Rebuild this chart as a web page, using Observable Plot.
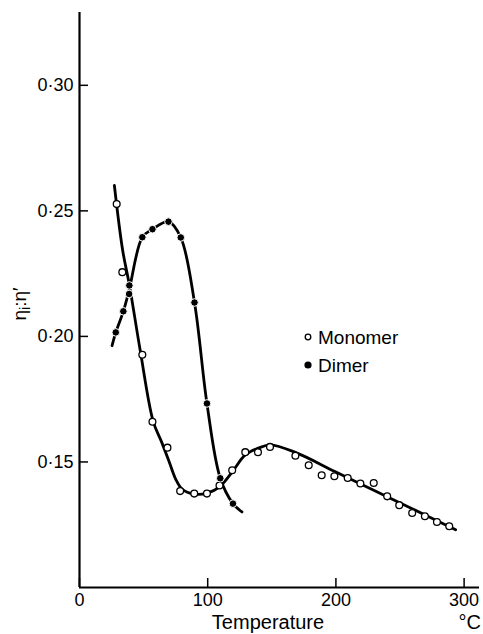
<!DOCTYPE html>
<html>
<head>
<meta charset="utf-8">
<script src="https://cdn.jsdelivr.net/npm/d3@7"></script>
<script src="https://cdn.jsdelivr.net/npm/@observablehq/plot@0.6"></script>
<style>
  html, body { margin: 0; padding: 0; background: white; }
  #chart { width: 483px; height: 634px; overflow: hidden; }
</style>
</head>
<body>
<div id="chart"></div>
<script>
// Tick values
const temperatureTicks = [0, 100, 200, 300];
const ratioTicks = [0.15, 0.20, 0.25, 0.30];
const seriesNames = ["Monomer", "Dimer"];

// Monomer measured points (temperature °C, ratio)
const monomerT = [29, 33.4, 49, 56.9, 68.6, 78.5, 89.5, 99.4, 109.2, 119.1, 129.3, 139.2, 148.6, 168.4, 178.8, 188.9, 198.8, 209.2, 219.1, 229.5, 240, 249.4, 259.5, 269.4, 278.8, 288.4];
const monomerV = [0.2527, 0.2256, 0.1927, 0.1660, 0.1557, 0.1384, 0.1374, 0.1374, 0.1406, 0.1467, 0.1539, 0.1539, 0.1560, 0.1525, 0.1487, 0.1447, 0.1443, 0.1436, 0.1414, 0.1416, 0.1363, 0.1328, 0.1297, 0.1284, 0.1261, 0.1244];

// Monomer fitted curve
const monomerCurveT = [27.2, 33.6, 38.9, 47.3, 57.4, 64, 70, 75, 80, 89.5, 99.6, 109, 119.1, 129.3, 139.5, 149, 168.4, 198.8, 229.5, 259.5, 293.4];
const monomerCurveV = [0.2601, 0.2345, 0.2205, 0.1946, 0.1663, 0.1580, 0.1500, 0.1432, 0.1392, 0.1372, 0.1376, 0.1400, 0.1460, 0.1528, 0.1555, 0.1568, 0.1538, 0.1463, 0.1387, 0.1314, 0.1230];

// Dimer measured points
const dimerT = [28.3, 34.2, 38.7, 38.9, 49, 56.9, 69.4, 79, 89.7, 99.4, 109.8, 119.7];
const dimerV = [0.2016, 0.2100, 0.2169, 0.2203, 0.2395, 0.2427, 0.2457, 0.2394, 0.2135, 0.1733, 0.1435, 0.1334];

// Dimer fitted curve
const dimerCurveT = [25.4, 28.3, 34.2, 38.8, 49, 56.9, 69.4, 79, 89.7, 99.4, 109.8, 119.7, 126.7];
const dimerCurveV = [0.1963, 0.2016, 0.2100, 0.2186, 0.2395, 0.2427, 0.2457, 0.2394, 0.2135, 0.1733, 0.1435, 0.1334, 0.1301];

const fmt = d => d.toFixed(2).replace(".", "\u00B7");
const FONT = "'Liberation Sans', Arial, sans-serif";

const plot = Plot.plot({
  width: 483,
  height: 634,
  marginLeft: 79,
  marginTop: 12,
  marginBottom: 47,
  marginRight: 4,
  style: { fontFamily: FONT, fontSize: "18px", color: "black", background: "white" },
  x: { domain: [0, 312], label: null },
  y: { domain: [0.10, 0.329], label: null },
  marks: [
    Plot.axisX(temperatureTicks, { tickSize: 0, tickPadding: 6, fontSize: 18, label: null }),
    Plot.axisX(temperatureTicks, { fill: "none", tickSize: 9, dy: -9, strokeWidth: 1.5, label: null }),
    Plot.axisY(ratioTicks, { tickSize: 0, tickPadding: 6, tickFormat: fmt, fontSize: 18, label: null }),
    Plot.axisY(ratioTicks, { fill: "none", tickSize: 9, dx: 9, strokeWidth: 1.5, label: null }),
    Plot.ruleX([0], { strokeWidth: 2.2 }),
    Plot.ruleY([0.10], { strokeWidth: 2.2 }),
    Plot.line(monomerCurveT, { x: monomerCurveT, y: monomerCurveV, curve: "catmull-rom", strokeWidth: 2.8 }),
    Plot.line(dimerCurveT, { x: dimerCurveT, y: dimerCurveV, curve: "catmull-rom", strokeWidth: 2.8 }),
    Plot.dot(monomerT, { x: monomerT, y: monomerV, r: 3.4, fill: "white", stroke: "black", strokeWidth: 1.3 }),
    Plot.dot(dimerT, { x: dimerT, y: dimerV, r: 3.8, fill: "black", stroke: "white", strokeWidth: 1 })
  ]
});

document.getElementById("chart").appendChild(plot);

const svg = d3.select(plot);

// Y axis label (rotated)
const yl = svg.append("text")
  .attr("transform", "translate(26,304) rotate(-90)")
  .attr("text-anchor", "middle")
  .attr("font-family", FONT)
  .attr("font-size", 19)
  .attr("fill", "black");
yl.append("tspan").text("\u03B7");
yl.append("tspan").attr("dy", 4).attr("font-size", 14).text("i");
yl.append("tspan").attr("dy", -4).text(":\u03B7\u2032");

// X axis labels
svg.append("text")
  .attr("x", 268).attr("y", 629)
  .attr("text-anchor", "middle")
  .attr("font-family", FONT).attr("font-size", 20).attr("fill", "black")
  .text("Temperature");
svg.append("text")
  .attr("x", 481).attr("y", 629)
  .attr("text-anchor", "end")
  .attr("font-family", FONT).attr("font-size", 20).attr("fill", "black")
  .text("\u00B0C");

// Legend
const legend = svg.append("g").attr("font-family", FONT).attr("font-size", 19).attr("text-anchor", "start");
seriesNames.forEach((name, i) => {
  const y = 337 + i * 28;
  legend.append("circle")
    .attr("cx", 308).attr("cy", y)
    .attr("r", i === 0 ? 2.8 : 3.6)
    .attr("fill", i === 0 ? "white" : "black")
    .attr("stroke", "black").attr("stroke-width", i === 0 ? 1.3 : 0);
  legend.append("text")
    .attr("x", 318).attr("y", y + 7)
    .attr("text-anchor", "start")
    .attr("fill", "black")
    .text(name);
});
</script>
</body>
</html>
